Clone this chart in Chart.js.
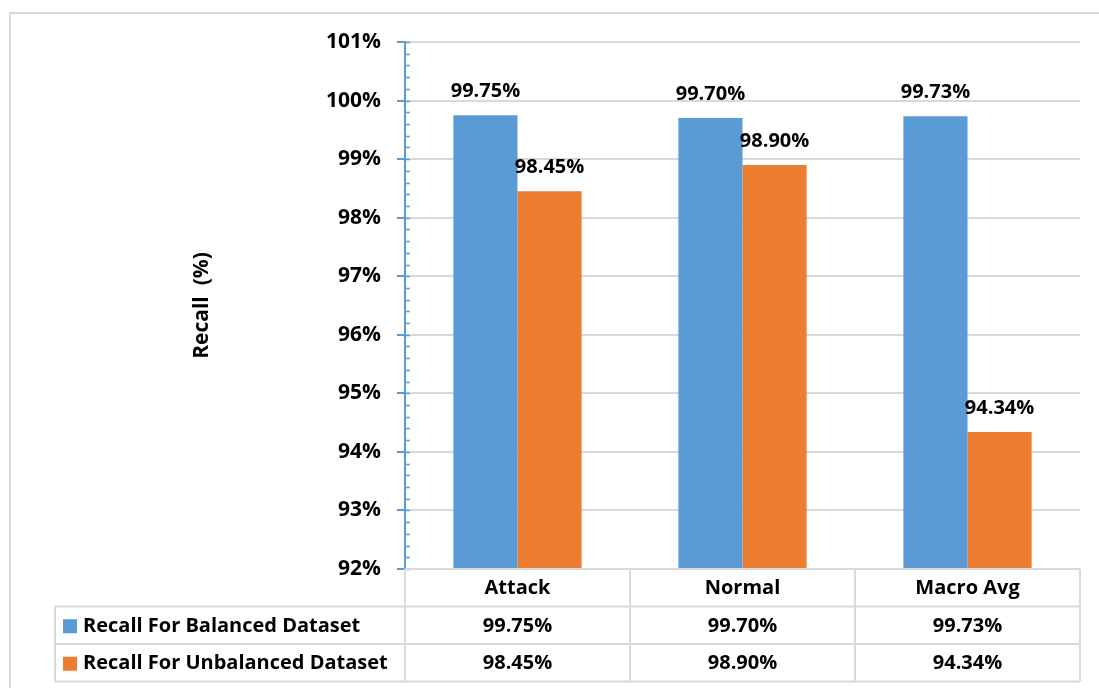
<!DOCTYPE html>
<html>
<head>
<meta charset="utf-8">
<script src="https://cdn.jsdelivr.net/npm/chart.js@4.4.1/dist/chart.umd.min.js"></script>
<style>
  html, body { margin: 0; padding: 0; background: #ffffff; }
  #wrap { position: relative; width: 1099px; height: 688px; }
</style>
</head>
<body>
<div id="wrap"><canvas id="recallChart"></canvas></div>
<script>
// Recall per class for the two datasets
const categories = ['Attack', 'Normal', 'Macro Avg'];
const seriesNames = ['Recall For Balanced Dataset', 'Recall For Unbalanced Dataset'];
const balancedRecall = [99.75, 99.70, 99.73];
const unbalancedRecall = [98.45, 98.90, 94.34];
const yMin = 92;
const yMax = 101;
const yStep = 1;
const yMinorStep = 0.2;

const BLUE = '#5B9BD5';
const ORANGE = '#ED7D31';
const GRID = '#D9D9D9';
const FONT = '"Open Sans", "Liberation Sans", sans-serif';
const fmt = v => v.toFixed(2) + '%';

// Frame around the whole chart
const framePlugin = {
  id: 'frame',
  beforeDraw(chart) {
    const ctx = chart.ctx;
    ctx.save();
    ctx.strokeStyle = GRID;
    ctx.lineWidth = 2;
    ctx.strokeRect(10, 13, chart.width + 20, chart.height + 20);
    ctx.restore();
  }
};

// Minor tick marks on the value axis (major marks also poke inside)
const minorTickPlugin = {
  id: 'minorTicks',
  afterDraw(chart) {
    const y = chart.scales.y;
    const ctx = chart.ctx;
    const x0 = chart.chartArea.left;
    ctx.save();
    ctx.strokeStyle = BLUE;
    ctx.lineWidth = 1.5;
    const n = Math.round((yMax - yMin) / yMinorStep);
    for (let i = 0; i <= n; i++) {
      const v = yMin + i * yMinorStep;
      const py = Math.round(y.getPixelForValue(v)) + 0.5;
      ctx.beginPath();
      ctx.moveTo(x0, py);
      ctx.lineTo(x0 + 5, py);
      ctx.stroke();
    }
    ctx.restore();
  }
};

// Value labels above each bar
const barLabelPlugin = {
  id: 'barLabels',
  afterDatasetsDraw(chart) {
    const ctx = chart.ctx;
    ctx.save();
    ctx.font = 'bold 20px ' + FONT;
    ctx.fillStyle = '#000';
    ctx.textAlign = 'center';
    ctx.textBaseline = 'alphabetic';
    chart.data.datasets.forEach((ds, di) => {
      chart.getDatasetMeta(di).data.forEach((bar, i) => {
        ctx.fillText(fmt(ds.data[i]), bar.x, bar.y - 18);
      });
    });
    ctx.restore();
  }
};

// Data table below the plot: category header plus one row per series
const dataTablePlugin = {
  id: 'dataTable',
  afterDraw(chart) {
    const ctx = chart.ctx;
    const x = chart.scales.x;
    const area = chart.chartArea;
    const left = area.left, right = area.right;
    const tableLeft = 55;
    const rowH = 37.5;
    const top = area.bottom;
    const colW = (right - left) / categories.length;

    ctx.save();
    ctx.strokeStyle = GRID;
    ctx.lineWidth = 2;

    // header row
    ctx.beginPath();
    ctx.moveTo(left, top); ctx.lineTo(right, top);
    ctx.stroke();
    // series rows
    const rowsTop = top + rowH;
    const nRows = chart.data.datasets.length;
    for (let r = 0; r <= nRows; r++) {
      const yy = rowsTop + r * rowH;
      ctx.beginPath();
      ctx.moveTo(tableLeft, yy); ctx.lineTo(right, yy);
      ctx.stroke();
    }
    // verticals
    ctx.beginPath();
    ctx.moveTo(tableLeft, rowsTop); ctx.lineTo(tableLeft, rowsTop + nRows * rowH);
    ctx.stroke();
    for (let c = 0; c <= categories.length; c++) {
      const xx = left + c * colW;
      ctx.beginPath();
      ctx.moveTo(xx, top); ctx.lineTo(xx, rowsTop + nRows * rowH);
      ctx.stroke();
    }

    ctx.font = 'bold 20px ' + FONT;
    ctx.fillStyle = '#000';
    ctx.textBaseline = 'middle';
    ctx.textAlign = 'center';
    categories.forEach((c, i) => {
      ctx.fillText(c, x.getPixelForValue(i), top + rowH / 2 + 1);
    });
    chart.data.datasets.forEach((ds, di) => {
      const cy = rowsTop + di * rowH + rowH / 2 + 1;
      ctx.fillStyle = ds.backgroundColor;
      ctx.fillRect(tableLeft + 8, cy - 7, 14, 14);
      ctx.fillStyle = '#000';
      ctx.textAlign = 'left';
      ctx.fillText(ds.label, tableLeft + 28, cy);
      ctx.textAlign = 'center';
      ds.data.forEach((v, i) => {
        ctx.fillText(fmt(v), x.getPixelForValue(i), cy);
      });
    });
    ctx.restore();
  }
};

new Chart(document.getElementById('recallChart'), {
  type: 'bar',
  data: {
    labels: categories,
    datasets: [
      { label: seriesNames[0], data: balancedRecall, backgroundColor: BLUE },
      { label: seriesNames[1], data: unbalancedRecall, backgroundColor: ORANGE }
    ]
  },
  options: {
    responsive: true,
    maintainAspectRatio: false,
    animation: false,
    layout: { padding: { left: 0, top: 42, right: 19, bottom: 119 } },
    datasets: { bar: { categoryPercentage: 0.57, barPercentage: 1.0 } },
    plugins: {
      legend: { display: false },
      tooltip: { enabled: false }
    },
    scales: {
      x: {
        grid: { display: false },
        border: { display: false },
        ticks: { display: false },
        afterFit(scale) { scale.height = 0; }
      },
      y: {
        min: yMin,
        max: yMax,
        ticks: {
          stepSize: yStep,
          padding: 16,
          color: '#000',
          font: { family: FONT, size: 21, weight: 'bold' },
          callback: v => v + '%'
        },
        grid: {
          color: GRID,
          lineWidth: 2,
          tickLength: 8,
          tickColor: BLUE
        },
        border: { color: BLUE, width: 2 },
        title: {
          display: true,
          text: 'Recall  (%)',
          color: '#000',
          font: { family: FONT, size: 21, weight: 'bold' },
          padding: { top: 189 }
        },
        afterFit(scale) { scale.width = 405; }
      }
    }
  },
  plugins: [framePlugin, minorTickPlugin, barLabelPlugin, dataTablePlugin]
});
</script>
</body>
</html>
